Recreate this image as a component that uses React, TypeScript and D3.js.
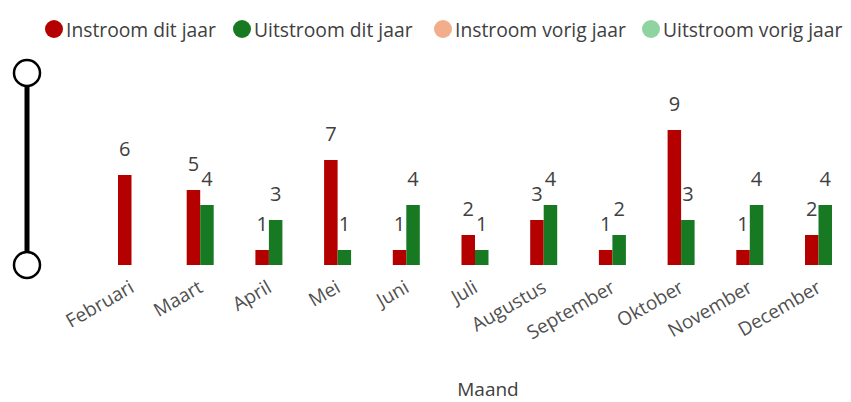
import React from "react";
import * as d3 from "d3";

const months = ["Februari", "Maart", "April", "Mei", "Juni", "Juli", "Augustus", "September", "Oktober", "November", "December"];
const instroomDitJaar = [6, 5, 1, 7, 1, 2, 3, 1, 9, 1, 2];
const uitstroomDitJaar = [0, 4, 3, 1, 4, 1, 4, 2, 3, 4, 4];
const seriesNames = ["Instroom dit jaar", "Uitstroom dit jaar", "Instroom vorig jaar", "Uitstroom vorig jaar"];
const seriesColors = ["#B50000", "#177A22", "#F2AE8A", "#8ED3A0"];
const xAxisTitle = "Maand";

const W = 851;
const H = 402;
const FONT = "'Open Sans', sans-serif";

export default function App() {
  const step = 68.7;
  const x0 = 131.5 - step / 2;
  const x = d3.scaleBand<string>().domain(months).range([x0, x0 + step * months.length]).paddingInner(0.607).paddingOuter(0.3035);
  const xs = d3.scaleBand<number>().domain([0, 1]).range([0, x.bandwidth()]);
  const y = d3.scaleLinear().domain([0, 9]).range([265, 130]);

  const series = [instroomDitJaar, uitstroomDitJaar];
  const legendX = [54, 242, 443, 651];

  return (
    <svg width={W} height={H} style={{ position: "absolute", left: 0, top: 0, background: "#fff" }} fontFamily={FONT}>
      {/* legend */}
      {seriesNames.map((n, i) => (
        <g key={n} transform={`translate(${legendX[i]},29)`}>
          <circle r={9} fill={seriesColors[i]} />
          <text x={12} y={7.5} fontSize={19.3} fill="#404040">{n}</text>
        </g>
      ))}
      {/* slider */}
      <line x1={27} x2={27} y1={73} y2={265} stroke="#000" strokeWidth={5} />
      <circle cx={27} cy={73} r={13} fill="#fff" stroke="#000" strokeWidth={2.5} />
      <circle cx={27} cy={265} r={13} fill="#fff" stroke="#000" strokeWidth={2.5} />
      {/* bars */}
      {series.map((vals, si) =>
        vals.map((v, mi) => {
          const bx = (x(months[mi]) as number) + (xs(si) as number);
          if (v === 0) return null;
          return (
            <g key={`${si}-${mi}`}>
              <rect x={bx} y={y(v)} width={xs.bandwidth()} height={y(0) - y(v)} fill={seriesColors[si]} />
              <text x={bx + xs.bandwidth() / 2} y={y(v) - 19} textAnchor="middle" fontSize={20} fill="#404040">{v}</text>
            </g>
          );
        })
      )}
      {/* x labels */}
      {months.map((m) => {
        const cx = (x(m) as number) + x.bandwidth() / 2;
        return (
          <text key={m} transform={`translate(${cx + 4},291) rotate(-30)`} textAnchor="end" fontSize={19} fill="#505050">{m}</text>
        );
      })}
      <text x={488} y={396} textAnchor="middle" fontSize={19} fill="#404040">{xAxisTitle}</text>
    </svg>
  );
}
